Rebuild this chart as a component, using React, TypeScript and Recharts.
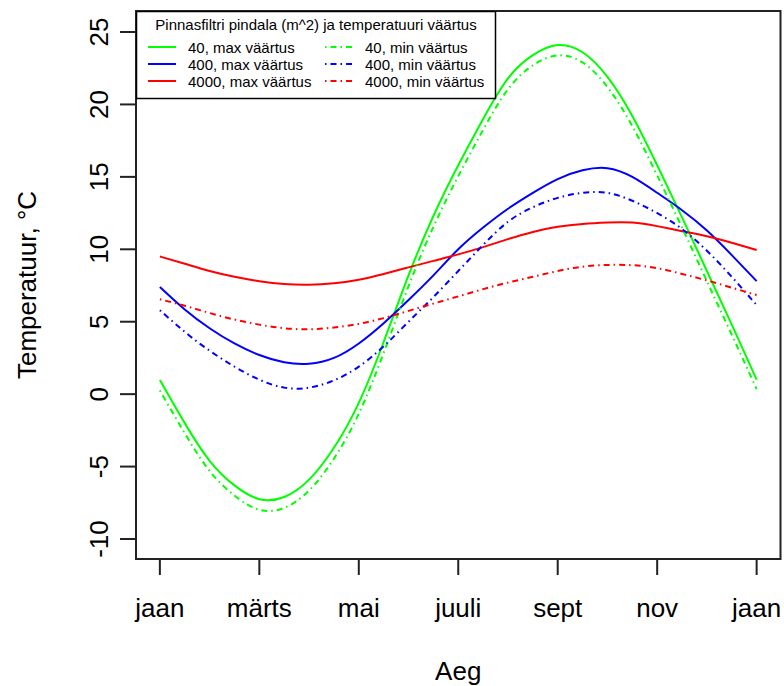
import { LineChart, Line, XAxis, YAxis, Legend, ReferenceArea } from 'recharts';

// months from January (0) to next January (12), half-month steps
const MONTH = [0, 0.5, 1, 1.5, 2, 2.5, 3, 3.5, 4, 4.5, 5, 5.5, 6, 6.5, 7, 7.5, 8, 8.5, 9, 9.5, 10, 10.5, 11, 11.5, 12];

const MAX_40 = [0.98, -2.0, -4.6, -6.3, -7.25, -7.1, -5.9, -3.7, -0.6, 3.6, 8.2, 12.3, 15.8, 19.0, 21.8, 23.4, 24.1, 23.6, 21.9, 19.2, 15.8, 12.2, 8.5, 4.8, 1.0];
const MIN_40 = [0.25, -2.7, -5.3, -7.0, -7.98, -7.85, -6.65, -4.45, -1.35, 2.85, 7.45, 11.55, 15.05, 18.25, 21.05, 22.7, 23.38, 22.9, 21.2, 18.5, 15.1, 11.5, 7.8, 4.1, 0.35];
const MAX_400 = [7.4, 5.85, 4.55, 3.5, 2.7, 2.2, 2.1, 2.5, 3.5, 4.9, 6.5, 8.2, 10.0, 11.5, 12.8, 13.9, 14.85, 15.45, 15.6, 15.0, 13.9, 12.7, 11.3, 9.6, 7.8];
const MIN_400 = [5.8, 4.3, 3.0, 1.9, 1.0, 0.45, 0.45, 0.95, 1.9, 3.3, 5.0, 6.7, 8.5, 10.3, 11.9, 12.9, 13.55, 13.9, 13.9, 13.35, 12.5, 11.4, 9.9, 8.1, 6.15];
const MAX_4000 = [9.5, 9.0, 8.5, 8.1, 7.8, 7.6, 7.55, 7.65, 7.9, 8.3, 8.75, 9.2, 9.65, 10.15, 10.7, 11.2, 11.55, 11.75, 11.85, 11.85, 11.6, 11.25, 10.9, 10.45, 9.95];
const MIN_4000 = [6.55, 6.1, 5.6, 5.15, 4.8, 4.55, 4.48, 4.6, 4.85, 5.25, 5.75, 6.25, 6.75, 7.25, 7.7, 8.1, 8.5, 8.8, 8.92, 8.9, 8.7, 8.3, 7.85, 7.35, 6.84];

const X_TICKS = [0, 2, 4, 6, 8, 10, 12];
const X_LABELS = ['jaan', 'märts', 'mai', 'juuli', 'sept', 'nov', 'jaan'];
const Y_TICKS = [-10, -5, 0, 5, 10, 15, 20, 25];

const X_DOMAIN: [number, number] = [-0.48, 12.48];
const Y_DOMAIN: [number, number] = [-11.38, 26.45];

const FONT = '"Liberation Sans", Arial, sans-serif';
const DASHDOT = '1.5 4 6 4';

const SERIES = [
  { key: 'max40', name: '40, max väärtus', color: '#00ff00', dash: undefined },
  { key: 'max400', name: '400, max väärtus', color: '#0000ff', dash: undefined },
  { key: 'max4000', name: '4000, max väärtus', color: '#ff0000', dash: undefined },
  { key: 'min40', name: '40, min väärtus', color: '#00ff00', dash: DASHDOT },
  { key: 'min400', name: '400, min väärtus', color: '#0000ff', dash: DASHDOT },
  { key: 'min4000', name: '4000, min väärtus', color: '#ff0000', dash: DASHDOT },
];

const data = MONTH.map((m, i) => ({
  m,
  max40: MAX_40[i],
  min40: MIN_40[i],
  max400: MAX_400[i],
  min400: MIN_400[i],
  max4000: MAX_4000[i],
  min4000: MIN_4000[i],
}));

function XTick({ x, y, payload }: any) {
  const idx = X_TICKS.indexOf(payload.value);
  return (
    <text x={x} y={y + 40} textAnchor="middle" fontSize={26} fontFamily={FONT} fill="#000">
      {X_LABELS[idx]}
    </text>
  );
}

function YTick({ x, y, payload }: any) {
  const bx = x - 10;
  return (
    <text x={bx} y={y} transform={`rotate(-90, ${bx}, ${y})`} textAnchor="middle" fontSize={26} fontFamily={FONT} fill="#000">
      {payload.value}
    </text>
  );
}

function LegendBox() {
  const col1 = SERIES.slice(0, 3);
  const col2 = SERIES.slice(3);
  const row = (s: (typeof SERIES)[number], i: number, lx: number) => (
    <g key={s.key}>
      <line x1={lx} x2={lx + 28} y1={47 + i * 17} y2={47 + i * 17} stroke={s.color} strokeWidth={2} strokeDasharray={s.dash} />
      <text x={lx + 40} y={52.5 + i * 17} fontSize={15} fontFamily={FONT} fill="#000">{s.name}</text>
    </g>
  );
  return (
    <svg width={361} height={89} style={{ display: 'block' }}>
      <g transform="translate(-136,-11)">
        <rect x={136.5} y={11.5} width={359} height={87} fill="#fff" stroke="#000" strokeWidth={1.5} />
        <text x={316} y={30} textAnchor="middle" fontSize={15} fontFamily={FONT} fill="#000">
          Pinnasfiltri pindala (m^2) ja temperatuuri väärtus
        </text>
        {col1.map((s, i) => row(s, i, 148))}
        {col2.map((s, i) => row(s, i, 325))}
      </g>
    </svg>
  );
}

export default function App() {
  return (
    <div style={{ position: 'absolute', left: 0, top: 0, width: 784, height: 686, background: '#fff' }}>
      <LineChart width={784} height={686} data={data} margin={{ top: 11, right: 3.5, bottom: 0, left: 0 }}>
        <XAxis
          dataKey="m"
          type="number"
          domain={X_DOMAIN}
          ticks={X_TICKS}
          allowDataOverflow
          tickSize={16}
          tickLine={{ stroke: '#222', strokeWidth: 2 }}
          axisLine={false}
          tick={<XTick />}
          height={127}
          label={{ value: 'Aeg', position: 'insideBottom', offset: 6, fontSize: 26, fontFamily: FONT, fill: '#000' }}
        />
        <YAxis
          type="number"
          domain={Y_DOMAIN}
          ticks={Y_TICKS}
          allowDataOverflow
          tickSize={16}
          tickLine={{ stroke: '#222', strokeWidth: 2 }}
          axisLine={false}
          tick={<YTick />}
          width={136}
          label={{ value: 'Temperatuur, °C', angle: -90, position: 'insideLeft', offset: 27, fontSize: 26, fontFamily: FONT, fill: '#000', style: { textAnchor: 'middle' } }}
        />
        <ReferenceArea x1={X_DOMAIN[0]} x2={X_DOMAIN[1]} y1={Y_DOMAIN[0]} y2={Y_DOMAIN[1]} fill="none" stroke="#222" strokeWidth={2} fillOpacity={0} ifOverflow="visible" />
        {SERIES.map((s) => (
          <Line
            key={s.key}
            dataKey={s.key}
            name={s.name}
            type="natural"
            stroke={s.color}
            strokeWidth={2}
            strokeDasharray={s.dash}
            dot={false}
            activeDot={false}
            isAnimationActive={false}
          />
        ))}
        <Legend
          layout="vertical"
          align="center"
          verticalAlign="middle"
          wrapperStyle={{ left: 136, top: 11, width: 361, height: 89 }}
          content={() => <LegendBox />}
        />
      </LineChart>
    </div>
  );
}
